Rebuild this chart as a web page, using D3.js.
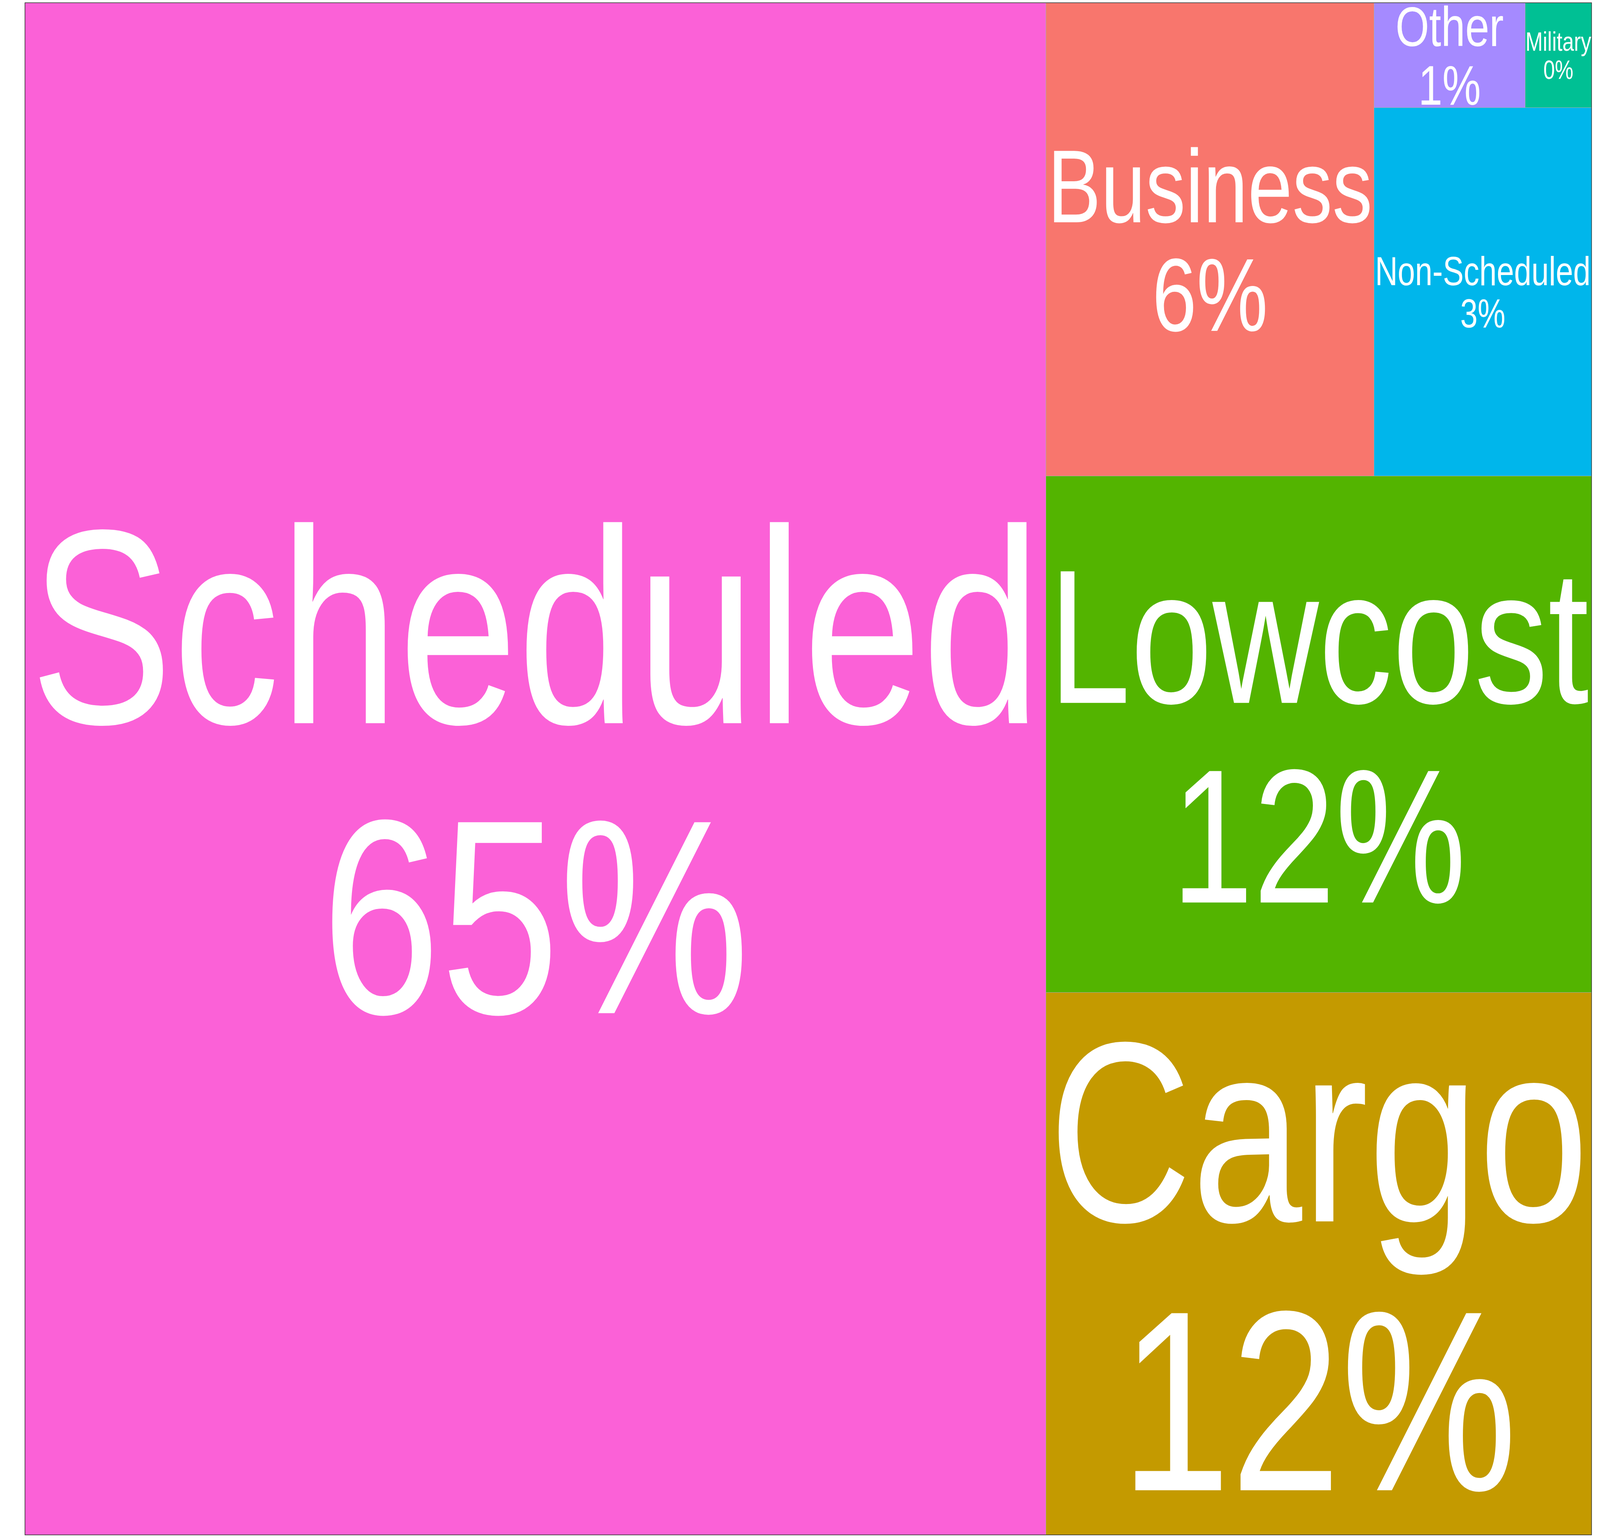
<!DOCTYPE html>
<html>
<head>
<meta charset="utf-8">
<script src="https://cdn.jsdelivr.net/npm/d3@7"></script>
<style>
  html, body { margin: 0; padding: 0; width: 100%; height: 100%; overflow: hidden; background: #ffffff; }
  svg { display: block; width: 100vw; height: 100vh; }
</style>
</head>
<body>
<svg id="treemap"></svg>
<script>
const PIXEL_WIDTH = 5314;
const PIXEL_HEIGHT = 3937;
const MARGIN = {top: 7, right: 28, bottom: 8, left: 83};

// share of flights per category (percent)
const CATEGORIES = ["Business", "Cargo", "Lowcost", "Military", "Non-Scheduled", "Other", "Scheduled"];
const SHARES = [6.47, 12.33, 11.74, 0.29, 3.34, 0.66, 65.17];
const COLOURS = ["#F8766D", "#C49A00", "#53B400", "#00C094", "#00B6EB", "#A58AFF", "#FB61D7"];

const FONT = "'Liberation Sans', Arial, sans-serif";
const CAP = 0.716;   // cap height in em
const LINE = 1.045;  // baseline to baseline in em


function measureEm(svg, str) {
    const t = svg.append("text")
        .attr("font-family", FONT)
        .attr("font-size", 100)
        .text(str);
    const w = t.node().getComputedTextLength() / 100;
    t.remove();
    return w;
}


function fitSize(svg, lines, w, h) {
    const em = d3.max(lines, s => measureEm(svg, s));
    return Math.min(0.99 * w / em, 0.943 * h / (CAP + LINE));
}


document.addEventListener("DOMContentLoaded", function() {
    const innerW = PIXEL_WIDTH - MARGIN.left - MARGIN.right;
    const innerH = PIXEL_HEIGHT - MARGIN.top - MARGIN.bottom;

    // the browser window is narrower than the chart, so let the viewBox fit it
    const svg = d3.select("#treemap")
        .attr("viewBox", `0 0 ${PIXEL_WIDTH} ${PIXEL_HEIGHT}`)
        .attr("preserveAspectRatio", "none");

    const data = {
        children: CATEGORIES.map((c, i) => ({name: c, value: SHARES[i], colour: COLOURS[i]}))
    };

    const root = d3.hierarchy(data)
        .sum(d => d.value || 0)
        .sort((a, b) => b.value - a.value);

    d3.treemap()
        .size([innerW, innerH])
        .tile(d3.treemapSquarify.ratio(1))(root);

    const total = root.value;

    // treemap is built bottom-up, like the original
    const x = d3.scaleLinear().domain([0, innerW]).range([MARGIN.left, MARGIN.left + innerW]);
    const y = d3.scaleLinear().domain([0, innerH]).range([MARGIN.top + innerH, MARGIN.top]);

    const leaves = root.leaves();

    svg.append("g")
        .selectAll("rect")
        .data(leaves)
        .enter()
        .append("rect")
        .attr("x", d => x(d.x0))
        .attr("y", d => y(d.y1))
        .attr("width", d => x(d.x1) - x(d.x0))
        .attr("height", d => y(d.y0) - y(d.y1))
        .attr("fill", d => d.data.colour)
        .attr("stroke", "#ababab")
        .attr("stroke-width", 1)
        .attr("vector-effect", "non-scaling-stroke")
        .attr("shape-rendering", "crispEdges");

    svg.append("rect")
        .attr("x", x(0))
        .attr("y", y(innerH))
        .attr("width", x(innerW) - x(0))
        .attr("height", y(0) - y(innerH))
        .attr("fill", "none")
        .attr("stroke", "#333333")
        .attr("stroke-width", 1.5)
        .attr("vector-effect", "non-scaling-stroke");

    const labels = svg.append("g");

    leaves.forEach(d => {
        const lines = [d.data.name, Math.round(d.value / total * 100) + "%"];
        const w = x(d.x1) - x(d.x0);
        const h = y(d.y0) - y(d.y1);
        const cx = (x(d.x0) + x(d.x1)) / 2;
        const cy = (y(d.y0) + y(d.y1)) / 2;
        const fs = fitSize(svg, lines, w, h);
        const base = cy - (CAP + LINE) * fs / 2 + CAP * fs;

        labels.selectAll(null)
            .data(lines)
            .enter()
            .append("text")
            .attr("x", cx)
            .attr("y", (s, i) => base + i * LINE * fs)
            .attr("text-anchor", "middle")
            .attr("font-family", FONT)
            .attr("font-size", fs)
            .attr("fill", "#ffffff")
            .text(s => s);
    });
});
</script>
</body>
</html>
